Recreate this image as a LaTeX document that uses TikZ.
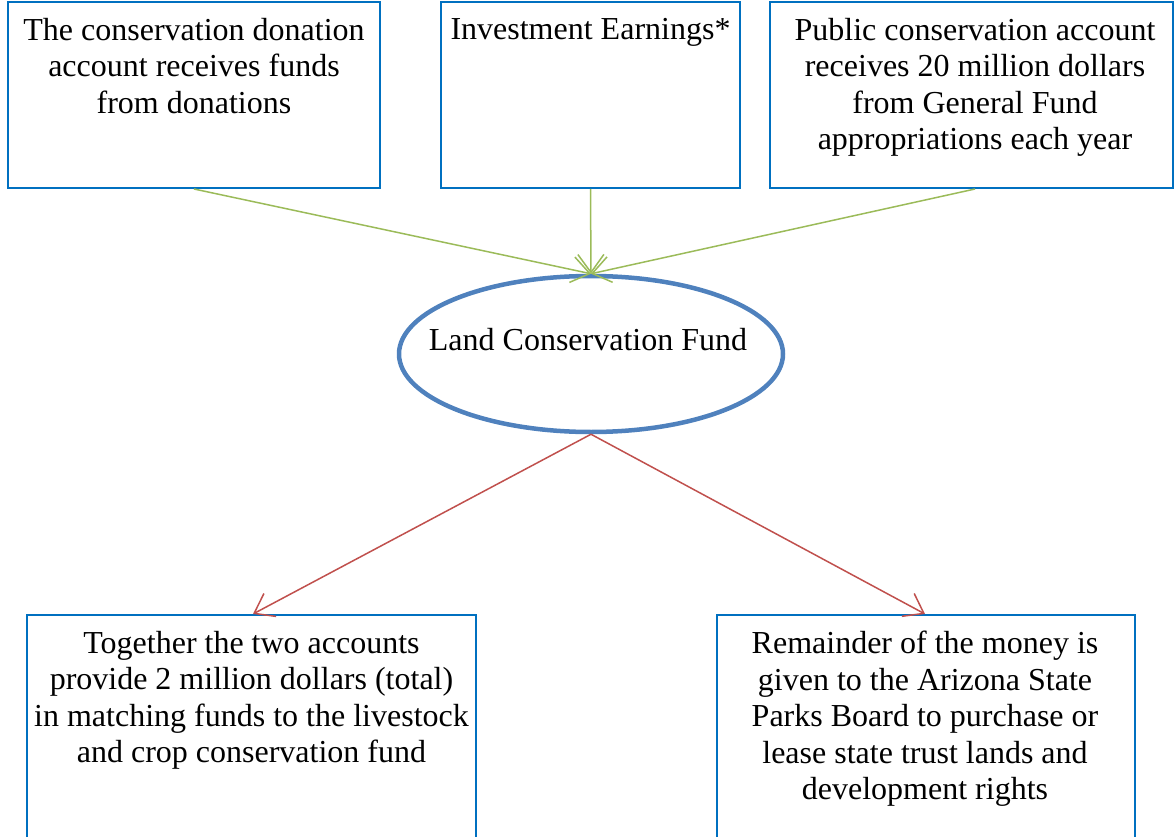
\documentclass[tikz,border=0pt]{standalone}
\usepackage{fontspec}
\setmainfont{Liberation Serif}
\usetikzlibrary{arrows.meta,shapes.geometric}
\definecolor{boxblue}{RGB}{0,112,192}
\definecolor{ellblue}{RGB}{79,129,189}
\definecolor{arrgreen}{RGB}{155,187,89}
\definecolor{arrred}{RGB}{192,80,77}
\tikzset{
  box/.style={draw=boxblue,line width=2pt,rectangle,inner sep=0pt},
  txt/.style={anchor=north,align=center,inner sep=0pt,font=\fontsize{32}{36.5}\selectfont},
  garrow/.style={draw=arrgreen,line width=1.5pt,-{Straight Barb[length=18pt,width=26pt]}},
  rarrow/.style={draw=arrred,line width=1.5pt,-{Straight Barb[length=18pt,width=26pt]}},
}
\begin{document}
\begin{tikzpicture}[x=1pt,y=-1pt]
\useasboundingbox (0,0) rectangle (1175,837);
\clip (0,0) rectangle (1175,837);
\node[box,minimum width=372pt,minimum height=186pt] (a) at (194,95) {};
\node[box,minimum width=299pt,minimum height=186pt] (b) at (590.5,95) {};
\node[box,minimum width=403pt,minimum height=186pt] (c) at (971.5,95) {};
\node[draw=ellblue,line width=4.5pt,ellipse,minimum width=384pt,minimum height=156pt,inner sep=0pt] (e) at (591,354) {};
\node[box,minimum width=449pt,minimum height=260pt] (d) at (251.5,745) {};
\node[box,minimum width=418pt,minimum height=260pt] (f) at (926,745) {};

\node[txt] (ta) at (194,18) {The conservation donation\\account receives funds\\from donations};
\node[txt] (tb) at (590.5,18) {Investment Earnings*};
\node[txt] (tc) at (975,18) {Public conservation account\\receives 20 million dollars\\from General Fund\\appropriations each year};
\node[txt,anchor=center] (te) at (588,340) {Land Conservation Fund};
\node[txt] (td) at (251.5,631) {Together the two accounts\\provide 2 million dollars (total)\\in matching funds to the livestock\\and crop conservation fund};
\node[txt] (tf) at (925,631) {Remainder of the money is\\given to the Arizona State\\Parks Board to purchase or\\lease state trust lands and\\development rights};

\draw[garrow] (a.south) -- (e.north);
\draw[garrow] (b.south) -- (e.north);
\draw[garrow] ([xshift=3.5pt]c.south) -- (e.north);
\draw[rarrow] (e.south) -- ([xshift=1.5pt]d.north);
\draw[rarrow] (e.south) -- ([xshift=-1pt]f.north);
\end{tikzpicture}
\end{document}
